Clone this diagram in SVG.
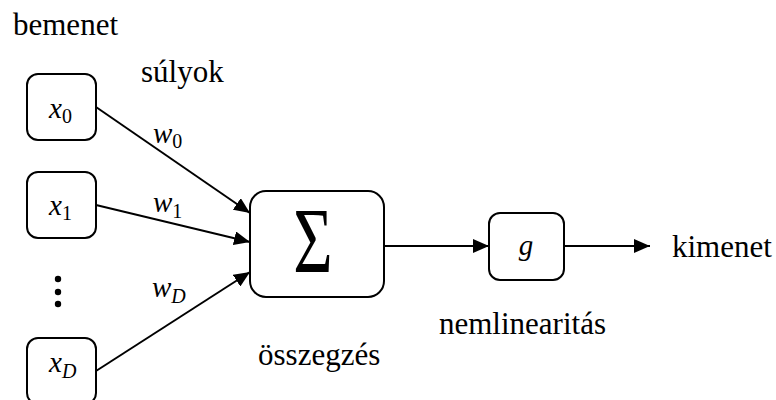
<svg xmlns="http://www.w3.org/2000/svg" width="776" height="400" viewBox="0 0 776 400">
  <style>
    .box { fill: #fff; stroke: #000; stroke-width: 2; }
    .lbl { font-family: "Liberation Serif", "Times New Roman", serif; font-size: 31px; fill: #000; }
    .math { font-family: "Liberation Serif", "Times New Roman", serif; font-style: italic; font-size: 29px; fill: #000; }
    .sub { font-size: 20px; font-style: normal; }
    .subi { font-size: 20px; font-style: italic; }
    .wire { stroke: #000; stroke-width: 2; fill: none; marker-end: url(#arrow); }
  </style>
  <defs>
    <marker id="arrow" markerUnits="userSpaceOnUse" markerWidth="17" markerHeight="14" refX="16" refY="7" orient="auto">
      <path d="M0,0 L16,7 L0,14 z" fill="#000"/>
    </marker>
  </defs>

  <rect width="776" height="400" fill="#fff"/>

  <!-- captions -->
  <text class="lbl" x="13" y="35">bemenet</text>
  <text class="lbl" x="141" y="82">súlyok</text>
  <text class="lbl" x="258" y="365">összegzés</text>
  <text class="lbl" x="439" y="334">nemlinearitás</text>
  <text class="lbl" x="672" y="257">kimenet</text>

  <!-- connectors -->
  <g id="connectors">
    <line class="wire" x1="96" y1="107" x2="250" y2="213"/>
    <line class="wire" x1="96" y1="205" x2="250" y2="242"/>
    <line class="wire" x1="96" y1="371" x2="250" y2="272"/>
    <line class="wire" x1="384" y1="246" x2="489" y2="246"/>
    <line class="wire" x1="564" y1="246" x2="650" y2="246"/>
    <text class="math" x="153" y="143">w<tspan class="sub" dy="5">0</tspan></text>
    <text class="math" x="153" y="212">w<tspan class="sub" dy="6">1</tspan></text>
    <text class="math" x="152" y="297">w<tspan class="subi" dy="6">D</tspan></text>
  </g>

  <!-- inputs -->
  <g id="x0">
    <rect class="box" x="27" y="74" width="69" height="66" rx="11"/>
    <text class="math" x="49" y="118">x<tspan class="sub" dy="5">0</tspan></text>
  </g>
  <g id="x1">
    <rect class="box" x="27" y="172" width="69" height="66" rx="11"/>
    <text class="math" x="49" y="215">x<tspan class="sub" dy="5">1</tspan></text>
  </g>
  <g id="dots">
    <circle cx="58" cy="279" r="3.2"/>
    <circle cx="58" cy="292" r="3.2"/>
    <circle cx="58" cy="304" r="3.2"/>
  </g>
  <g id="xD">
    <rect class="box" x="27" y="338" width="69" height="66" rx="11"/>
    <text class="math" x="49" y="372">x<tspan class="subi" dy="6">D</tspan></text>
  </g>

  <!-- summation -->
  <g id="sum">
    <rect class="box" x="250" y="191" width="134" height="106" rx="16"/>
    <text x="0" y="0" transform="translate(313 272) scale(0.72 1)" text-anchor="middle" font-family="Liberation Serif, serif" font-size="94">Σ</text>
  </g>

  <!-- activation -->
  <g id="g">
    <rect class="box" x="489" y="213" width="75" height="67" rx="11"/>
    <text class="math" x="526" y="255" text-anchor="middle">g</text>
  </g>
</svg>
